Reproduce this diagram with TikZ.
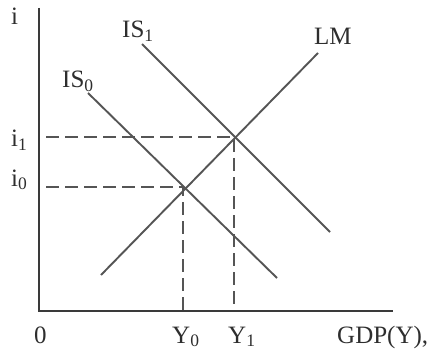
\documentclass[tikz,border=0pt]{standalone}
\usepackage{fontspec}
\setmainfont{Liberation Serif}
\definecolor{axiscol}{HTML}{3A3A3A}
\definecolor{curvecol}{HTML}{555555}
\definecolor{txtcol}{HTML}{2E2E2E}
\begin{document}
\begin{tikzpicture}[x=1pt,y=-1pt,
  axisline/.style={draw=axiscol,line width=2.8pt},
  curve/.style={draw=curvecol,line width=1.9pt},
  guide/.style={draw=curvecol,line width=1.9pt,dash pattern=on 13pt off 6pt},
  lbl/.style={text=txtcol,inner sep=0pt,anchor=base west,font=\fontsize{25}{28}\selectfont}]
\useasboundingbox (0,0) rectangle (435,355);
% axes
\coordinate (top) at (39,8);
\coordinate (orig) at (39,311);
\coordinate (xend) at (393,311);
\draw[axisline] (top) -- (orig) -- (xend);
% curves
\coordinate (is1a) at (142,44);
\coordinate (is1b) at (330,232);
\coordinate (is0a) at (88,93);
\coordinate (is0b) at (277,278);
\coordinate (lma) at (318,53);
\coordinate (lmb) at (101,275);
\draw[curve] (is1a) -- (is1b);
\draw[curve] (is0a) -- (is0b);
\draw[curve] (lma) -- (lmb);
% equilibria
\coordinate (E0) at (183,187);
\coordinate (E1) at (234,137);
\coordinate (i0s) at (46,187);
\coordinate (i1s) at (46,137);
\coordinate (y0e) at (183,311);
\coordinate (y1e) at (234,306);
\draw[guide] (i1s) -- (E1) -- (y1e);
\draw[guide] (i0s) -- (E0) -- (y0e);
% labels
\node[lbl] (li) at (11,25) {i};
\node[lbl] (li1) at (11,147) {i\textsubscript{1}};
\node[lbl] (li0) at (11,186) {i\textsubscript{0}};
\node[lbl] (lIS1) at (122,38) {IS\textsubscript{1}};
\node[lbl] (lIS0) at (62,88) {IS\textsubscript{0}};
\node[lbl] (lLM) at (314,45) {LM};
\node[lbl] (l0) at (34,343) {0};
\node[lbl] (lY0) at (172,343) {Y\textsubscript{0}};
\node[lbl] (lY1) at (228,343) {Y\textsubscript{1}};
\node[lbl] (lGDP) at (337,343) {GDP(Y),};
\end{tikzpicture}
\end{document}
